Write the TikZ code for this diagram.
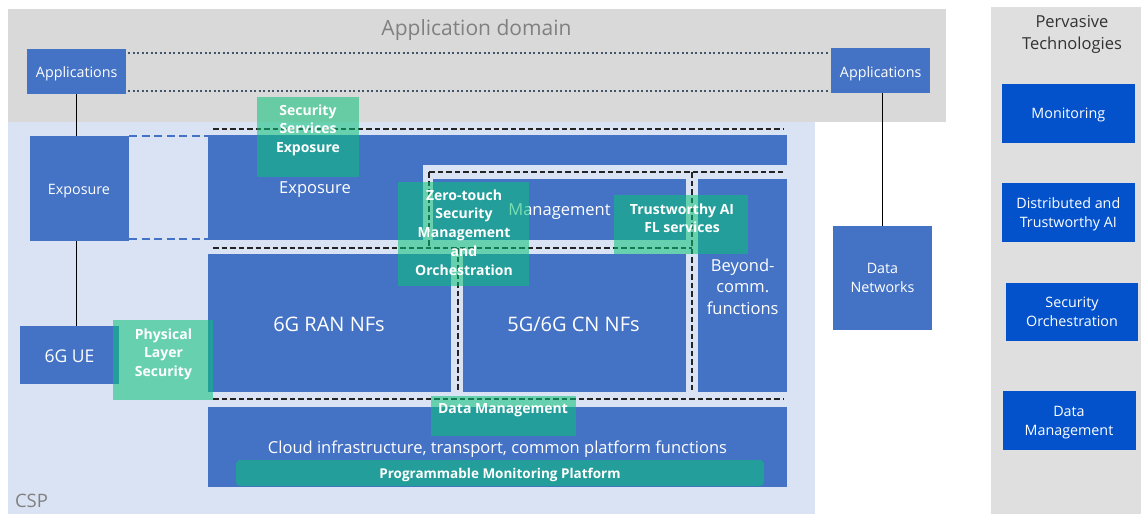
\documentclass[tikz,border=0pt]{standalone}
\usepackage{fontspec}
\setmainfont{Open Sans}

\definecolor{domgrey}{RGB}{217,217,217}
\definecolor{techgrey}{RGB}{223,223,223}
\definecolor{cspblue}{RGB}{218,227,243}
\definecolor{nfblue}{RGB}{68,114,196}
\definecolor{techblue}{RGB}{3,82,204}
\definecolor{secgreen}{RGB}{10,195,120}
\definecolor{dotgrey}{RGB}{68,84,106}
\definecolor{capgrey}{RGB}{128,128,128}
\definecolor{titlegrey}{RGB}{50,50,50}
\definecolor{divgrey}{RGB}{35,35,35}

\newcommand\fsize[2]{\fontsize{#1}{#2}\selectfont}

\tikzset{
  blk/.style={fill=nfblue, inner sep=0pt, outer sep=0pt},
  techblk/.style={fill=techblue, inner sep=0pt, outer sep=0pt},
  secblk/.style={fill=secgreen, fill opacity=0.55, inner sep=0pt, outer sep=0pt},
  smalltxt/.style={text=white, inner sep=0pt, align=center, font=\fsize{14.3}{19}},
  bigtxt/.style={text=white, inner sep=0pt, align=center, font=\fsize{16.5}{21.5}},
  nftxt/.style={text=white, inner sep=0pt, align=center, font=\fsize{20}{24}},
  sectxt/.style={text=white, inner sep=0pt, align=center, font=\fsize{14}{18.7}\bfseries},
  divider/.style={draw=divgrey, line width=1.4pt, dash pattern=on 5.5pt off 3pt},
  appdots/.style={draw=dotgrey, line width=2pt, dash pattern=on 2pt off 2.5pt},
  expdash/.style={draw=nfblue, line width=2pt, dash pattern=on 8pt off 4.5pt},
  wire/.style={draw=black, line width=1.8pt},
}

\begin{document}
\begin{tikzpicture}[x=1pt,y=-1pt]
\useasboundingbox (0,0) rectangle (1141,514);

% domain backgrounds
\fill[domgrey] (8,9) rectangle (946,122);
\fill[cspblue] (8,122) rectangle (815,514);
\fill[techgrey] (991,7) rectangle (1141,514);

\node[text=capgrey, font=\fsize{21}{25}, inner sep=0pt, anchor=base] (domTitle) at (476.5,35) {Application domain};
\node[text=titlegrey, font=\fsize{16.5}{22}, inner sep=0pt, align=center, anchor=north] (techTitle) at (1072,15.5) {Pervasive\\Technologies};
\node[text=capgrey, font=\fsize{18.5}{22}, inner sep=0pt, anchor=base] (cspTitle) at (31.5,507.5) {CSP};

% application endpoints
\node[blk, minimum width=99pt, minimum height=45pt] (appL) at (76.5,71.5) {};
\node[blk, minimum width=99pt, minimum height=45pt] (appR) at (880.5,70.5) {};
\node[smalltxt, anchor=base] (appLt) at (76.7,77) {Applications};
\node[smalltxt, anchor=base] (appRt) at (880.7,77) {Applications};

% dotted application channel
\coordinate (dotA1) at (128,53);
\coordinate (dotA2) at (829,53);
\coordinate (dotB1) at (128,91);
\coordinate (dotB2) at (829,91);
\draw[appdots] (dotA1) -- (dotA2);
\draw[appdots] (dotB1) -- (dotB2);

% UE side
\node[blk, minimum width=99pt, minimum height=105pt] (expL) at (79.5,188.5) {};
\node[smalltxt, anchor=base] (expLt) at (79,194) {Exposure};
\node[blk, minimum width=99pt, minimum height=58pt] (ue) at (69.5,355) {};
\node[bigtxt, anchor=base, font=\fsize{17.5}{21}] (uet) at (69.5,362) {6G UE};

% data networks
\node[blk, minimum width=99pt, minimum height=104pt] (dn) at (882.5,278) {};
\node[smalltxt, anchor=north] (dnt) at (882.5,263.1) {Data\\Networks};

% CSP building blocks
\node[blk, minimum width=579pt, minimum height=30pt] (expTop) at (497.5,150) {};
\node[blk, minimum width=215pt, minimum height=105pt] (expMain) at (315.5,187.5) {};
\node[blk, minimum width=253pt, minimum height=61pt] (mgmt) at (559.5,209.5) {};
\node[blk, minimum width=89pt, minimum height=213pt] (beyond) at (742.5,285.5) {};
\node[blk, minimum width=243pt, minimum height=138pt] (ran) at (329.5,323) {};
\node[blk, minimum width=223pt, minimum height=138pt] (cn) at (574.5,323) {};
\node[blk, minimum width=579pt, minimum height=80pt] (cloud) at (497.5,447) {};

\node[bigtxt, anchor=base] (expMaint) at (315,193) {Exposure};
\node[bigtxt, anchor=base] (mgmtt) at (559.5,215) {Management};
\node[nftxt, anchor=base] (rant) at (329,331.5) {6G RAN NFs};
\node[nftxt, anchor=base] (cnt) at (573.5,331.5) {5G/6G CN NFs};
\node[bigtxt, anchor=north] (beyondt) at (742.7,258.5) {Beyond-\\comm.\\functions};
\node[bigtxt, anchor=base] (cloudt) at (497.5,453) {Cloud infrastructure, transport, common platform functions};

% exposure bridge
\draw[expdash] (expL.north east) -- (expL.north east -| expMain.west);
\draw[expdash] ([yshift=2.5pt]expL.south east) -- ([yshift=2.5pt]expL.south east -| expMain.west);

% layer dividers
\coordinate (d1a) at (213,129);  \coordinate (d1b) at (783,129);
\coordinate (d2a) at (429,172);  \coordinate (d2b) at (783,172);
\coordinate (d3b) at (429,248);
\coordinate (d4a) at (213,248);  \coordinate (d4b) at (692,248);
\coordinate (d5b) at (458,392);  \coordinate (d5a) at (458,248);
\coordinate (d6a) at (692,172);  \coordinate (d6b) at (692,392);
\coordinate (d7a) at (213,399);  \coordinate (d7b) at (783,399);
\draw[divider] (d1a) -- (d1b);
\draw[divider] (d2a) -- (d2b);
\draw[divider] (d2a) -- (d3b);
\draw[divider] (d4a) -- (d4b);
\draw[divider] (d5a) -- (d5b);
\draw[divider] (d6a) -- (d6b);
\draw[divider] (d7a) -- (d7b);

% connectors
\draw[wire] (appL.south) -- (appL.south |- expL.north);
\draw[wire] (appL.south |- expL.south) -- (appL.south |- ue.north);
\draw[wire] (dn.north |- appR.south) -- (dn.north);

% pervasive technologies
\node[techblk, minimum width=133pt, minimum height=59pt] (mon) at (1068.5,113.5) {};
\node[techblk, minimum width=133pt, minimum height=59pt] (dtai) at (1068.5,212.5) {};
\node[techblk, minimum width=132pt, minimum height=58pt] (sorch) at (1072,312) {};
\node[techblk, minimum width=133pt, minimum height=59pt] (pdm) at (1069.5,420.5) {};
\node[smalltxt, anchor=base] (mont) at (1068.3,118) {Monitoring};
\node[smalltxt, anchor=north] (dtait) at (1068.3,197.1) {Distributed and\\Trustworthy AI};
\node[smalltxt, anchor=north] (sorcht) at (1072,297.1) {Security\\Orchestration};
\node[smalltxt, anchor=north] (pdmt) at (1069,406.1) {Data\\Management};

% security and AI overlays
\node[secblk, minimum width=102pt, minimum height=80pt] (sse) at (308,137) {};
\node[secblk, minimum width=131pt, minimum height=104pt] (zt) at (463.5,234) {};
\node[secblk, minimum width=134pt, minimum height=59pt] (tai) at (681,224.5) {};
\node[secblk, minimum width=100pt, minimum height=80pt] (pls) at (163,360) {};
\node[secblk, minimum width=145pt, minimum height=40pt] (dm) at (503.5,416) {};
\node[secblk, minimum width=528pt, minimum height=26pt, rounded corners=4pt] (pmp) at (500,473) {};

\node[sectxt, anchor=north] (sset) at (308,104.4) {Security\\Services\\Exposure};
\node[sectxt, anchor=north] (ztt) at (464,189.4) {Zero-touch\\Security\\Management\\and\\Orchestration};
\node[sectxt, anchor=north] (tait) at (682,203.4) {Trustworthy AI\\FL services};
\node[sectxt, anchor=north] (plst) at (163.5,328.4) {Physical\\Layer\\Security};
\node[sectxt, anchor=base] (dmt) at (503,413) {Data Management};
\node[sectxt, anchor=base, font=\fsize{13.5}{16}\bfseries] (pmpt) at (500,478) {Programmable Monitoring Platform};
\end{tikzpicture}
\end{document}
